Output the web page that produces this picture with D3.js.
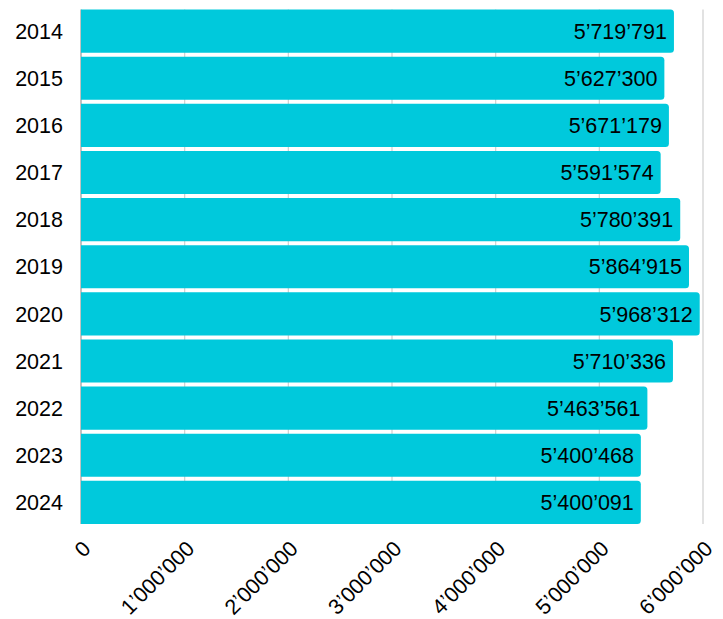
<!DOCTYPE html>
<html><head><meta charset="utf-8">
<script src="https://cdn.jsdelivr.net/npm/d3@7"></script>
<style>
html,body{margin:0;padding:0;background:#fff;}
svg{display:block;font-family:"Liberation Sans",Arial,Helvetica,sans-serif;}
</style></head>
<body>
<svg id="chart" width="723" height="619"></svg>
<script>
const years = ["2014","2015","2016","2017","2018","2019","2020","2021","2022","2023","2024"];
const values = [5719791,5627300,5671179,5591574,5780391,5864915,5968312,5710336,5463561,5400468,5400091];
const xTicks = [0,1000000,2000000,3000000,4000000,5000000,6000000];

const fmt = v => d3.format(",")(v).replace(/,/g, "\u2019");
const svg = d3.select("#chart");
const mLeft = 81, mRight = 703, mTop = 9.5, mBottom = 524;

const x = d3.scaleLinear().domain([0, 6000000]).range([mLeft, mRight]);
const y = d3.scaleBand().domain(years).range([mTop, mBottom]).paddingInner(0.085).paddingOuter(0);

// gridlines
svg.append("g").selectAll("line").data(xTicks).join("line")
  .attr("x1", d => x(d)).attr("x2", d => x(d))
  .attr("y1", mTop).attr("y2", mBottom)
  .attr("stroke", d => d === 0 ? "#999" : "#cfcfcf").attr("stroke-width", 1.2);

// bars with right rounded corners
const r = 3.5;
svg.append("g").selectAll("path").data(years).join("path")
  .attr("fill", "#00c9dc")
  .attr("d", (d, i) => {
    const x0 = x(0), x1 = x(values[i]), y0 = y(d), h = y.bandwidth();
    return `M${x0},${y0}H${x1 - r}Q${x1},${y0} ${x1},${y0 + r}V${y0 + h - r}Q${x1},${y0 + h} ${x1 - r},${y0 + h}H${x0}Z`;
  });

// value labels
svg.append("g").selectAll("text").data(years).join("text")
  .attr("x", (d, i) => x(values[i]) - 7)
  .attr("y", d => y(d) + y.bandwidth() / 2)
  .attr("dy", "0.36em")
  .attr("text-anchor", "end")
  .attr("font-size", 21.5)
  .attr("fill", "#000")
  .text((d, i) => fmt(values[i]));

// year labels
svg.append("g").selectAll("text").data(years).join("text")
  .attr("x", mLeft - 18)
  .attr("y", d => y(d) + y.bandwidth() / 2)
  .attr("dy", "0.36em")
  .attr("text-anchor", "end")
  .attr("font-size", 21.5)
  .attr("fill", "#000")
  .text(d => d);

// x tick labels rotated
svg.append("g").selectAll("text").data(xTicks).join("text")
  .attr("transform", d => `translate(${x(d) + 11},${mBottom + 26}) rotate(-45)`)
  .attr("text-anchor", "end")
  .attr("font-size", 21.5)
  .attr("fill", "#000")
  .text(d => fmt(d));
</script>
</body></html>
